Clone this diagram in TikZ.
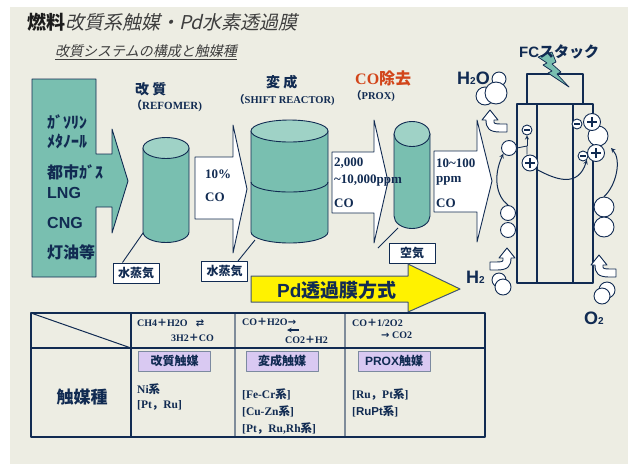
\documentclass[tikz,border=0pt]{standalone}
\usepackage{fontspec}
\setmainfont{Liberation Serif}
\setsansfont{Liberation Sans}
\newfontfamily\jp{Noto Sans CJK JP}
\newfontfamily\jpit{Noto Sans CJK JP}[FakeSlant=0.22]
\newfontfamily\sym{DejaVu Sans}
\usetikzlibrary{positioning,arrows}

\definecolor{navy}{HTML}{112B52}
\definecolor{ink}{HTML}{1C1C1C}
\definecolor{paper}{HTML}{EDEDE3}
\definecolor{tealfill}{HTML}{79BFB0}
\definecolor{tealtop}{HTML}{9FD2C6}
\definecolor{cored}{HTML}{D2451A}
\definecolor{lav}{HTML}{D9C9F2}
\definecolor{rule}{HTML}{7F8C9A}

\newcommand{\fs}[1]{\fontsize{#1}{#1}\selectfont}
\newcommand{\J}[1]{{\jp\bfseries #1}}

\tikzstyle{outline}=[draw=navy, line width=0.9pt]
\tikzstyle{lbl}=[inner sep=0pt, anchor=west, text=navy, execute at begin node=\bfseries]
\tikzstyle{gas}=[draw=navy, fill=white, line width=1pt, minimum width=46pt, minimum height=20pt, inner sep=0pt, text=navy, font=\fs{12}]
\tikzstyle{cat}=[draw=navy!55, fill=lav, line width=1pt, minimum width=72pt, minimum height=20pt, inner sep=0pt, text=navy, font=\fs{12}]
\tikzstyle{bub}=[circle, draw=navy, fill=white, line width=0.9pt, inner sep=0pt]

% cylinder: centre x, top y, bottom y, x radius, y radius
\newcommand{\drum}[5]{%
  \draw[outline, fill=tealfill] (#1-#4,#2) -- (#1-#4,#3)
    arc[start angle=180, end angle=0, x radius=#4, y radius=#5] -- (#1+#4,#2) -- cycle;
  \draw[outline, fill=tealtop] (#1,#2) ellipse[x radius=#4, y radius=#5];}

% block arrow: body left, body top, body bottom, head x, head top, head bottom, tip x
\newcommand{\flow}[7]{%
  \draw[outline, fill=white] (#1,#2) -- (#4,#2) -- (#4,#5) -- (#7,{(#5+#6)/2})
    -- (#4,#6) -- (#4,#3) -- (#1,#3) -- cycle;}

% bent arrow, tip at (#1,#2), tail to the right (1) or left (-1)
\newcommand{\hookarrow}[3]{%
  \draw[outline, fill=white, shift={(#1,#2)}, xscale=#3] (0,0) -- (8,10) -- (4,10) -- (4,12)
    .. controls (4,14) and (6,14) .. (17,14) -- (17,22) -- (10,22)
    .. controls (-1,22) and (-4,18) .. (-4,10) -- (-8,10) -- cycle;}

\begin{document}
\begin{tikzpicture}[x=1pt, y=-1pt, line join=round]

\fill[white] (0,0) rectangle (628,464);
\fill[paper] (10,7) rectangle (628,464);
\useasboundingbox (0,0) rectangle (628,464);

% headings
\node[lbl, text=ink, execute at begin node=\mdseries] (title) at (27,22) {\fs{19}{\jp\bfseries 燃料}{\jpit\color{ink!85} 改質系触媒・Pd水素透過膜}};
\node[lbl, text=ink!85, execute at begin node=\mdseries] (subtitle) at (55,52) {\fs{14}\jpit\underline{改質システムの構成と触媒種}};

% fuel feed
\draw[outline, fill=tealfill] (32,79) -- (96,79) -- (96,154) -- (112,154) -- (112,129) -- (128,181)
  -- (112,233) -- (112,207) -- (96,207) -- (96,277) -- (32,277) -- cycle;
\node[lbl, font=\fs{16}] (fuel1) at (47,122) {\J{ｶﾞｿﾘﾝ}};
\node[lbl, font=\fs{16}] (fuel2) at (47,141) {\J{ﾒﾀﾉｰﾙ}};
\node[lbl, font=\fs{16}] (fuel3) at (47,172) {\J{都市ｶﾞｽ}};
\node[lbl, font=\fs{16}\sffamily] (fuel4) at (47,193) {LNG};
\node[lbl, font=\fs{16}\sffamily] (fuel5) at (47,223) {CNG};
\node[lbl, font=\fs{16}] (fuel6) at (47,252) {\J{灯油等}};

% reactors
\drum{166}{148}{232}{23}{10.5}
\drum{289.5}{131}{232}{38.5}{11}
\draw[outline] (251,182) arc[start angle=180, end angle=0, x radius=38.5, y radius=10];
\drum{412}{134}{216}{18}{12.5}

\node[lbl, font=\fs{14}] (ref) at (135,89) {\J{改 質}};
\node[lbl, font=\fs{11}] (refsub) at (131,106) {{\jp （}REFOMER)};
\node[lbl, font=\fs{14}] (shift) at (266,82) {\J{変 成}};
\node[lbl, font=\fs{10.5}] (shiftsub) at (234,100) {{\jp （}SHIFT REACTOR)};
\node[lbl, text=cored, font=\fs{16}] (prox) at (355,78) {CO\J{除去}};
\node[lbl, font=\fs{10.5}] (proxsub) at (351,96) {{\jp （}PROX)};

% gas flow
\flow{195}{157}{219}{233}{125}{253}{247}
\flow{332}{152}{213}{374}{120}{243}{388}
\flow{434}{151}{212}{477}{120}{242}{492}

\node[lbl, font=\fs{13}] (co1a) at (205,174) {10\%};
\node[lbl, font=\fs{13}] (co1b) at (205,197) {CO};
\node[lbl, font=\fs{13}] (co2a) at (334,163) {2,000};
\node[lbl, font=\fs{13}] (co2b) at (334,181) {\char`\~10,000ppm};
\node[lbl, font=\fs{13}] (co2c) at (334,203) {CO};
\node[lbl, font=\fs{13}] (co3a) at (436,163) {10\char`\~100};
\node[lbl, font=\fs{13}] (co3b) at (436,181) {ppm};
\node[lbl, font=\fs{13}] (co3c) at (436,203) {CO};

% steam and air inlets
\node[gas] (steam1) at (136,273) {\J{水蒸気}};
\node[gas] (steam2) at (224.5,271.5) {\J{水蒸気}};
\node[gas] (air) at (412,253) {\J{空気}};
\coordinate (foot1) at (143,233);
\coordinate (foot2) at (255,240);
\coordinate (foot3) at (398,228);
\coordinate (airtail) at (378,248);
\draw[outline] ([xshift=10pt]steam1.north west) -- (foot1);
\draw[outline] ([xshift=-10pt]steam2.north east) -- (foot2);
\draw[outline] (airtail) -- (foot3);

% membrane route
\draw[draw=navy!80, line width=1pt, fill=yellow] (251,276) -- (408,276) -- (408,264) -- (460,289)
  -- (408,312) -- (408,302) -- (251,302) -- cycle;
\node[lbl, font=\fs{19}] (pd) at (277,290) {\sffamily Pd\J{透過膜方式}};

% catalyst table
\draw[draw=rule, line width=1.5pt] (235,313) -- (235,437) (345,313) -- (345,437);
\draw[navy, line width=1.2pt] (131,313) -- (131,437);
\draw[navy, line width=1.5pt] (31,348) -- (485,348);
\draw[navy, line width=1pt] (31,313) -- (131,348);
\draw[navy, line width=2pt] (31,313) rectangle (485,437);

\node[lbl, font=\fs{10}] (eq1a) at (137,323) {CH4\J{＋}H2O\hspace{8pt}{\sym ⇄}};
\node[lbl, font=\fs{10}] (eq1b) at (171,338) {3H2\J{＋}CO};
\node[lbl, font=\fs{10}] (eq2a) at (242,322) {CO\J{＋}H2O{\sym →}};
\node[lbl, font=\fs{10}] (eq2b) at (285,340) {CO2\J{＋}H2};
\coordinate (backR) at (299,330);
\coordinate (backL) at (287,330);
\draw[navy, line width=1.1pt, -stealth] (backR) -- (backL);
\node[lbl, font=\fs{10}] (eq3a) at (352,323) {CO\J{＋}1/2O2};
\node[lbl, font=\fs{10}] (eq3b) at (381,335) {{\sym →}\ CO2};

\node[cat] (cat1) at (174.5,361) {\J{改質触媒}};
\node[cat] (cat2) at (282,361) {\J{変成触媒}};
\node[cat] (cat3) at (394,361) {\sffamily\bfseries PROX\J{触媒}};

\node[lbl, font=\fs{17}, anchor=center] (kind) at (82,397) {\J{触媒種}};
\node[lbl, font=\fs{11.5}] (ni1) at (137,389) {Ni\J{系}};
\node[lbl, font=\fs{11.5}] (ni2) at (137,405) {[Pt{\jp ，}Ru]};
\node[lbl, font=\fs{11.5}] (fe1) at (242,394) {[Fe-Cr\J{系}]};
\node[lbl, font=\fs{11.5}] (fe2) at (242,411) {[Cu-Zn\J{系}]};
\node[lbl, font=\fs{11.5}] (fe3) at (242,428) {[Pt{\jp ，}Ru,Rh\J{系}]};
\node[lbl, font=\fs{11.5}] (ru1) at (352,394) {[Ru{\jp ，}Pt\J{系}]};
\node[lbl, font=\fs{11.5}] (ru2) at (352,411) {[{\sffamily RuPt}\J{系}]};

% fuel cell stack
\draw[navy, line width=1.3pt] (527,104) -- (527,74) -- (583,74) -- (583,104);
\draw[navy, line width=1.3pt] (517,104) rectangle (593,283);
\draw[navy, line width=1.3pt] (537,104) -- (537,283) (573,104) -- (573,283);
\draw[outline, line width=0.7pt, fill=tealfill] (538,57) -- (552,52) -- (556,62) -- (552,64) -- (561,72)
  -- (557,74) -- (569,87) -- (548,73) -- (552,71) -- (543,65) -- (547,63) -- cycle;
\node[lbl, font=\fs{15}] (fc) at (519,52) {\sffamily FC\J{スタック}};

% water out
\node[bub, minimum size=14pt] (w3) at (499,79) {};
\node[bub, minimum size=18pt] (w1) at (485,96) {};
\node[bub, minimum size=22pt] (w2) at (496,93) {};
\node[lbl, font=\fs{18}\sffamily] (h2o) at (457,78) {H{\fs{10}2}O};
\hookarrow{490}{110}{1}

% anode side
\node[bub, minimum size=15pt] (hb1) at (508,213) {};
\node[bub, minimum size=15pt] (hb2) at (508,230) {};
\node[bub, minimum size=14pt] (hin1) at (499,280) {};
\node[bub, minimum size=16pt] (hin2) at (503,287) {};
\node[lbl, font=\fs{18}\sffamily] (h2) at (466,277) {H{\fs{10}2}};
\hookarrow{507}{248}{-1}
\node[bub, minimum size=15pt] (hs) at (509,148) {};
\node[bub, minimum size=10pt] (em1) at (527,130) {};
\node[bub, minimum size=16pt] (hp1) at (530,163) {};
\coordinate (split) at (527,146);
\draw[navy, line width=0.8pt] (hs.east) -- (split) -- (hp1.north -| split);
\draw[navy, line width=0.8pt, ->, >=stealth] (split) -- (em1.south);
\draw[->, >=stealth, navy, line width=1pt] (hb1.north) .. controls (496,196) and (493,176) .. (hs.south west);

% cathode side
\node[bub, minimum size=20pt] (ob) at (598,136) {};
\node[bub, minimum size=10pt] (em2) at (577,124) {};
\node[bub, minimum size=17pt] (op1) at (592,122) {};
\node[bub, minimum size=10pt] (em3) at (583,156) {};
\node[bub, minimum size=17pt] (op2) at (596,153) {};
\node[bub, minimum size=20pt] (ob1) at (604,207) {};
\node[bub, minimum size=20pt] (ob2) at (604,227) {};
\node[bub, minimum size=16pt] (oin1) at (607,290) {};
\node[bub, minimum size=16pt] (oin2) at (602,296) {};
\node[lbl, font=\fs{18}\sffamily] (o2) at (584,318) {O{\fs{10}2}};
\hookarrow{599}{255}{1}
\draw[->, >=stealth, navy, line width=1pt] (ob1.north) .. controls (616,186) and (622,160) .. (611,148);
\draw[->, >=stealth, navy, line width=1pt] (hp1.south east) .. controls (556,180) and (578,188) .. (em3.south east);

% charges
\foreach \n in {em1,em2,em3}
  \draw[navy, line width=1.6pt] ([xshift=-2.8pt]\n.center) -- ([xshift=2.8pt]\n.center);
\foreach \n in {hp1,op1,op2}{
  \draw[navy, line width=2.2pt] ([xshift=-5pt]\n.center) -- ([xshift=5pt]\n.center);
  \draw[navy, line width=2.2pt] ([yshift=-5pt]\n.center) -- ([yshift=5pt]\n.center);
}

\end{tikzpicture}
\end{document}
